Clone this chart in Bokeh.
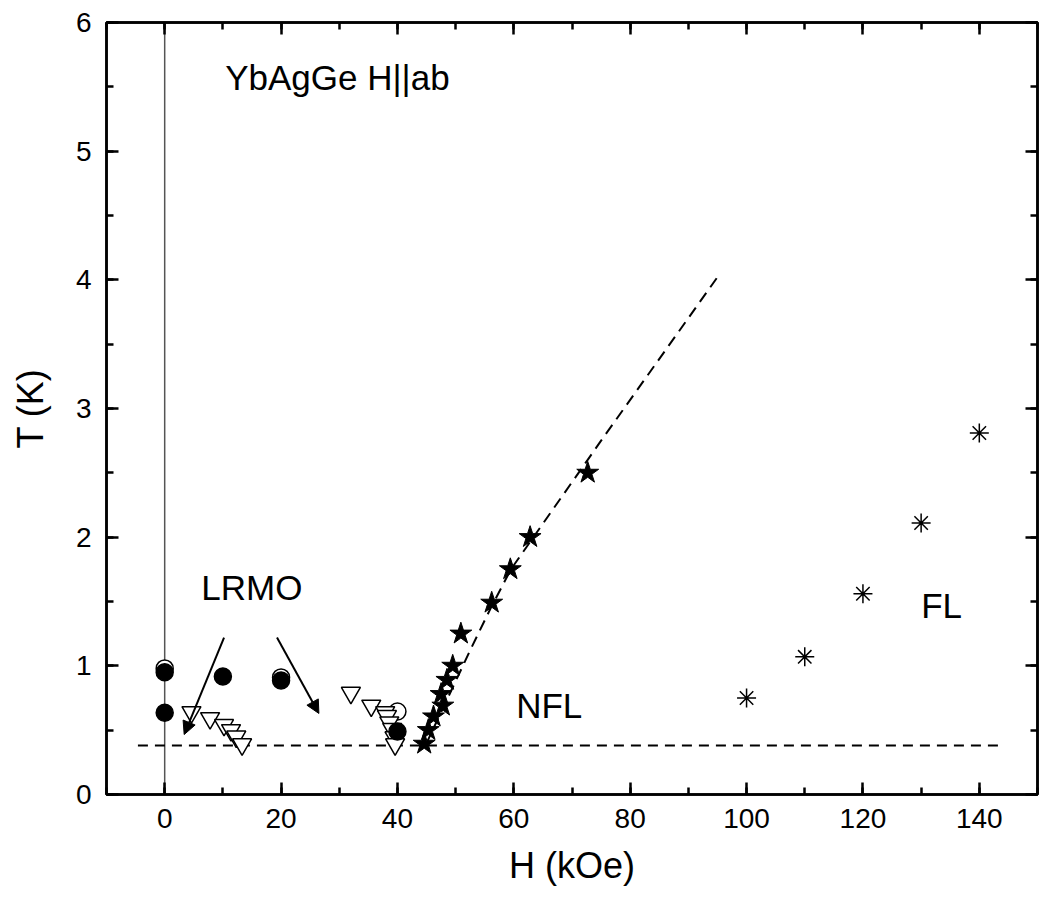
from bokeh.plotting import figure
from bokeh.models import (Range1d, LinearAxis, SingleIntervalTicker, Arrow, NormalHead)
from bokeh.core.properties import value
from bokeh.embed import file_html
from bokeh.resources import INLINE

FONT = "Liberation Sans"

# ---- data ----
open_circle_H = [0, 20, 40]
open_circle_T = [0.98, 0.91, 0.645]

filled_circle_H = [0, 0, 10, 20, 40]
filled_circle_T = [0.95, 0.635, 0.917, 0.886, 0.49]

triangle_H = [4.6, 7.8, 10.2, 11.4, 12.3, 13.3, 32.0, 35.5, 37.9, 38.2, 38.6, 39.1, 39.5, 39.6]
triangle_T = [0.64, 0.593, 0.54, 0.50, 0.45, 0.39, 0.79, 0.69, 0.64, 0.61, 0.56, 0.51, 0.445, 0.39]

star_H = [44.6, 45.3, 46.2, 47.8, 47.5, 48.5, 49.5, 50.9, 56.2, 59.4, 62.8, 72.7]
star_T = [0.394, 0.50, 0.606, 0.69, 0.78, 0.89, 1.00, 1.25, 1.49, 1.75, 2.00, 2.50]

asterisk_H = [100, 110, 120, 130, 140]
asterisk_T = [0.75, 1.07, 1.56, 2.11, 2.81]

# dashed guide lines
nfl_line_H = [-4.6, 143.2]
nfl_line_T = [0.38, 0.38]
crossover_H = [44.9, 52.7, 56.1, 59.5, 75.0, 95.3]
crossover_T = [0.39, 1.14, 1.455, 1.75, 2.75, 4.04]

zero_line_H = [0, 0]
zero_line_T = [0, 6]

# labels
label_text = ["YbAgGe H||ab", "LRMO", "NFL", "FL"]
label_H = [10.4, 6.3, 60.4, 130.0]
label_T = [5.57, 1.61, 0.69, 1.47]

# arrows (start H, start T, end H, end T)
arrow_x0 = [10.2, 19.3]
arrow_y0 = [1.22, 1.22]
arrow_x1 = [3.35, 26.5]
arrow_y1 = [0.466, 0.63]

p = figure(width=1041, height=902, output_backend="svg", toolbar_location=None,
           x_range=Range1d(-10, 150), y_range=Range1d(0, 6),
           min_border_left=106, min_border_right=4, min_border_top=22, min_border_bottom=108,
           x_axis_label="H (kOe)", y_axis_label="T (K)")
p.background_fill_color = "white"
p.border_fill_color = "white"
p.grid.visible = False
p.outline_line_color = "black"
p.outline_line_width = 2.5

p.xaxis.ticker = SingleIntervalTicker(interval=20, num_minor_ticks=2)
p.yaxis.ticker = SingleIntervalTicker(interval=1, num_minor_ticks=2)

def style_axis(ax, labels=True):
    ax.axis_line_width = 2.5
    ax.axis_line_color = "black"
    ax.major_tick_in = 12
    ax.major_tick_out = 0
    ax.minor_tick_in = 7
    ax.minor_tick_out = 0
    ax.major_tick_line_width = 2.5
    ax.minor_tick_line_width = 2.5
    ax.major_tick_line_color = "black"
    ax.minor_tick_line_color = "black"
    if labels:
        ax.major_label_text_font = FONT
        ax.major_label_text_font_size = "28px"
        ax.major_label_text_color = "black"
        ax.axis_label_text_font = FONT
        ax.axis_label_text_font_size = "36px"
        ax.axis_label_text_font_style = "normal"
        ax.axis_label_text_color = "black"
    else:
        ax.major_label_text_font_size = "0px"
        ax.major_label_text_color = None
        ax.major_label_standoff = 0
        ax.axis_label = None

style_axis(p.xaxis[0])
style_axis(p.yaxis[0])
p.xaxis[0].major_label_standoff = 14
p.xaxis[0].axis_label_standoff = 14
p.yaxis[0].major_label_standoff = 15
p.yaxis[0].axis_label_standoff = 22

top_ax = LinearAxis(ticker=SingleIntervalTicker(interval=20, num_minor_ticks=2))
right_ax = LinearAxis(ticker=SingleIntervalTicker(interval=1, num_minor_ticks=2))
style_axis(top_ax, labels=False)
style_axis(right_ax, labels=False)
p.add_layout(top_ax, "above")
p.add_layout(right_ax, "right")

# guide lines
p.line(zero_line_H, zero_line_T, line_color="#555555", line_width=1.5)
p.line(nfl_line_H, nfl_line_T, line_color="black", line_width=2, line_dash="10 7")
p.line(crossover_H, crossover_T, line_color="black", line_width=2, line_dash="11 7")

# markers
p.scatter(open_circle_H, open_circle_T, marker="circle", size=17,
          fill_color="white", line_color="black", line_width=1.5)
p.scatter(triangle_H, triangle_T, marker="inverted_triangle", size=19,
          fill_color="white", line_color="black", line_width=1.5)
p.scatter(filled_circle_H, filled_circle_T, marker="circle", size=17,
          fill_color="black", line_color="black", line_width=1.5)
p.scatter(star_H, star_T, marker="star", size=23,
          fill_color="black", line_color="black", line_width=1)
p.scatter(asterisk_H, asterisk_T, marker="asterisk", size=19,
          line_color="black", line_width=1.5)

# arrows
for xs, ys, xe, ye in zip(arrow_x0, arrow_y0, arrow_x1, arrow_y1):
    p.add_layout(Arrow(end=NormalHead(size=13, fill_color="black", line_color="black"),
                       x_start=xs, y_start=ys, x_end=xe, y_end=ye,
                       line_color="black", line_width=2))

# labels
p.text(x=label_H, y=label_T, text=label_text, text_font=value(FONT),
       text_font_size="35px", text_align="left", text_baseline="middle",
       text_color="black")

open("out.html", "w").write(file_html(p, INLINE))
